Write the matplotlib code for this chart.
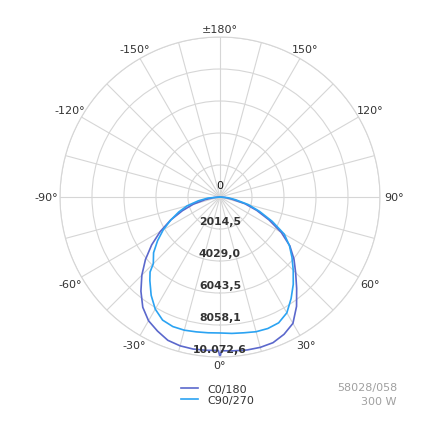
import numpy as np
import matplotlib
matplotlib.use("Agg")
import matplotlib.pyplot as plt

# luminous intensity (cd) per angle
c0_angles = [-90, -85, -80, -75, -70, -65, -60, -55, -50, -45, -40, -35, -30, -25, -20,
             -15, -10, -5, -0.6, 0, 0.6, 5, 10, 15, 20, 25, 30, 35, 40, 45, 50, 55, 60, 65,
             70, 75, 80, 85, 90]
c0_values = [0, 378, 944, 1731, 2518, 3425, 4338, 5250, 6125, 6956, 7743, 8474, 8996, 9311,
             9600, 9700, 9720, 9690, 9660, 10072.6, 9680, 9720, 9780, 9800, 9760, 9538, 9185,
             8404, 7510, 6736, 6081, 5370, 4457, 3406, 2461, 1624, 755, 315, 0]

c90_angles = [-90, -85, -80, -75, -70, -65, -60, -55, -50, -45, -43, -40, -35, -30, -25,
              -20, -15, -10, -5, 0, 5, 10, 15, 20, 25, 30, 35, 40, 45, 50, 55, 60, 65, 70,
              75, 80, 85, 90]
c90_values = [0, 755, 1385, 2140, 2764, 3412, 4123, 4797, 5458, 5937, 6453, 6868, 7554, 8150,
              8550, 8680, 8680, 8620, 8580, 8560, 8620, 8680, 8780, 8810, 8740, 8420, 7806,
              7177, 6522, 5918, 5338, 4671, 3626, 2650, 1845, 1007, 504, 0]

ring_values = [2014.5, 4029.0, 6043.5, 8058.1, 10072.6]
ring_labels = ["2014,5", "4029,0", "6043,5", "8058,1", "10.072,6"]
r_max = 10072.6

angle_ticks = [0, 30, 60, 90, 120, 150, 180, 210, 240, 270, 300, 330]
angle_labels = ["0°", "30°", "60°", "90°", "120°", "150°", "±180°",
                "-150°", "-120°", "-90°", "-60°", "-30°"]

series_names = ["C0/180", "C90/270"]
series_colors = ["#5b68cc", "#2ba3f2"]
info_lines = ["58028/058", "300 W"]

fig = plt.figure(figsize=(4.35, 4.35), dpi=100)
ax = fig.add_axes([0.1379, 0.177, 0.7356, 0.7356], projection="polar")
ax.set_theta_zero_location("S")
ax.set_theta_direction(1)
ax.set_ylim(0, r_max)

# grid, every 15 degrees
grid_angles = list(range(0, 360, 15))
ax.set_thetagrids(grid_angles, [""] * len(grid_angles))
ax.set_rgrids(ring_values, [""] * len(ring_values))
ax.grid(True, color="#d6d6d6", linewidth=0.8)
ax.spines["polar"].set_color("#d6d6d6")
ax.spines["polar"].set_linewidth(0.8)

px = r_max / 160.0  # one pixel in data units

# angle labels just outside the outer ring
for a, lab in zip(angle_ticks, angle_labels):
    off = 8 + 6 * abs(np.sin(np.radians(a)))
    ax.text(np.radians(a), r_max + off * px, lab, ha="center", va="center",
            fontsize=8, color="#333333", clip_on=False)

ax.plot(np.radians(c0_angles), c0_values, color=series_colors[0], lw=1.2, label=series_names[0])
ax.plot(np.radians(c90_angles), c90_values, color=series_colors[1], lw=1.2, label=series_names[1])

# radial scale labels
ax.text(np.pi, 12 * px, "0", ha="center", va="center", fontsize=8, color="#111111")
for v, lab in zip(ring_values, ring_labels):
    ax.text(0, v - 8 * px, lab, ha="center", va="center", fontsize=7.8,
            fontweight="bold", color="#333333")

leg = fig.legend(loc="upper left", bbox_to_anchor=(175 / 435, 1 - 379 / 435), frameon=False,
                 fontsize=8, handlelength=1.6, handletextpad=0.8, labelspacing=0.15,
                 borderpad=0)
for t in leg.get_texts():
    t.set_color("#333333")

fig.text(397 / 435, 1 - 388 / 435, info_lines[0], ha="right", va="center", fontsize=8, color="#a0a0a0")
fig.text(397 / 435, 1 - 402 / 435, info_lines[1], ha="right", va="center", fontsize=8, color="#a0a0a0")

fig.savefig("out.png", dpi=100)
